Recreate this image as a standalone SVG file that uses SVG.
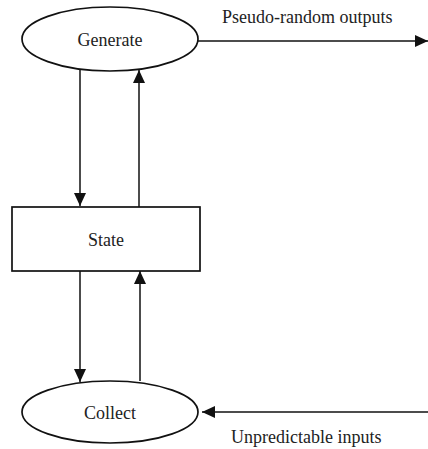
<svg xmlns="http://www.w3.org/2000/svg" width="428" height="449" viewBox="0 0 428 449">
<style>
.shape{fill:#fff;stroke:#111;stroke-width:1.7}
.edge{fill:none;stroke:#111;stroke-width:1.5}
text{font-family:"Liberation Serif","Times New Roman",serif;font-size:18px;fill:#222}
</style>
<defs>
<marker id="ah" markerUnits="userSpaceOnUse" markerWidth="13" markerHeight="14" viewBox="0 0 13 14" refX="13" refY="7" orient="auto">
<path d="M0,1 L13,7 L0,13 Z" fill="#111"/>
</marker>
</defs>
<rect width="428" height="449" fill="#fff"/>
<g id="generate">
<ellipse class="shape" cx="110" cy="39" rx="88" ry="32"/>
<text x="110" y="46" text-anchor="middle">Generate</text>
</g>
<g id="state">
<rect class="shape" x="12" y="207" width="188" height="64"/>
<text x="106" y="246" text-anchor="middle">State</text>
</g>
<g id="collect">
<ellipse class="shape" cx="110" cy="412" rx="88" ry="31"/>
<text x="110" y="419" text-anchor="middle">Collect</text>
</g>
<g id="connectors">
<line class="edge" x1="198" y1="41" x2="428" y2="41" marker-end="url(#ah)"/>
<line class="edge" x1="80" y1="70" x2="80" y2="206" marker-end="url(#ah)"/>
<line class="edge" x1="139" y1="207" x2="139" y2="70" marker-end="url(#ah)"/>
<line class="edge" x1="80" y1="271" x2="80" y2="382" marker-end="url(#ah)"/>
<line class="edge" x1="140" y1="381" x2="140" y2="271" marker-end="url(#ah)"/>
<line class="edge" x1="428" y1="412" x2="202" y2="412" marker-end="url(#ah)"/>
<text x="222" y="23">Pseudo-random outputs</text>
<text x="231" y="443">Unpredictable inputs</text>
</g>
</svg>
